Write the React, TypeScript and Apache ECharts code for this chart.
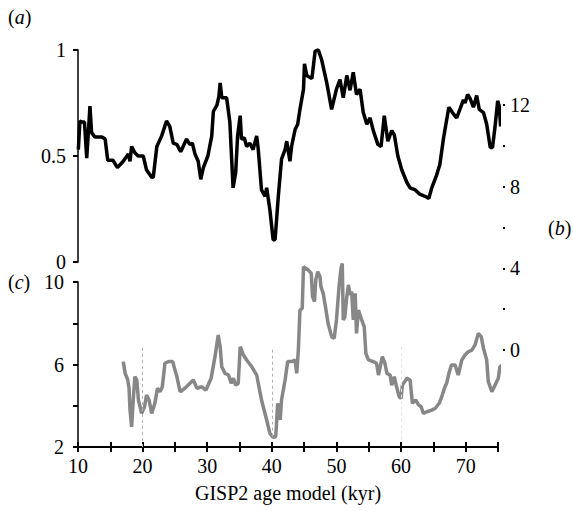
import React, { useEffect, useRef } from "react";
import * as echarts from "echarts";

const xRange = [10, 75];
const topTicks = [0, 0.5, 1];
const bottomTicks = [2, 4, 6, 8, 10];
const rightTicks = [0, 2, 4, 6, 8, 10, 12];

// (a) black record: [age kyr, value]
const seriesA: number[][] = [
  [10.05, 0.53], [10.3, 0.665], [10.7, 0.66], [11.0, 0.66], [11.35, 0.49], [11.6, 0.61], [11.85, 0.735],
  [12.1, 0.61], [12.6, 0.59], [13.7, 0.59], [14.2, 0.58], [14.6, 0.48], [15.4, 0.48], [16.1, 0.445],
  [17.0, 0.475], [17.8, 0.51], [18.05, 0.475], [18.3, 0.545], [18.8, 0.515], [19.3, 0.5], [20.1, 0.5],
  [20.6, 0.435], [21.4, 0.4], [21.65, 0.4], [22.2, 0.545], [22.95, 0.595], [23.7, 0.665], [24.2, 0.64],
  [24.75, 0.56], [25.3, 0.555], [25.9, 0.52], [26.8, 0.58], [27.3, 0.555], [27.7, 0.56], [28.1, 0.51],
  [28.6, 0.475], [29.0, 0.39], [29.4, 0.445], [30.1, 0.5], [30.7, 0.595], [30.95, 0.71], [31.5, 0.74],
  [31.8, 0.78], [32.0, 0.845], [32.25, 0.775], [33.0, 0.775], [33.5, 0.66], [34.0, 0.35], [34.4, 0.42],
  [34.7, 0.595], [35.1, 0.69], [35.3, 0.58], [35.75, 0.585], [36.1, 0.545], [36.6, 0.56], [37.1, 0.53],
  [37.65, 0.595], [37.9, 0.53], [38.4, 0.34], [38.95, 0.31], [39.2, 0.35], [39.7, 0.245], [40.2, 0.105],
  [40.5, 0.105], [41.0, 0.31], [41.5, 0.485], [42.05, 0.53], [42.3, 0.57], [42.8, 0.475], [43.05, 0.545],
  [43.6, 0.625], [44.0, 0.65], [44.35, 0.72], [44.9, 0.815], [45.05, 0.935], [45.4, 0.88], [46.2, 0.865],
  [46.7, 0.995], [47.2, 1.0], [47.7, 0.955], [48.5, 0.845], [49.25, 0.72], [50.0, 0.815], [50.55, 0.86],
  [51.05, 0.775], [51.6, 0.88], [52.1, 0.81], [52.6, 0.895], [53.1, 0.79], [53.65, 0.815], [54.15, 0.705],
  [54.7, 0.65], [55.2, 0.68], [55.7, 0.62], [56.4, 0.555], [56.9, 0.545], [57.4, 0.69], [57.95, 0.57],
  [58.55, 0.62], [58.95, 0.6], [59.5, 0.5], [60.1, 0.435], [60.9, 0.375], [61.4, 0.35], [62.2, 0.34],
  [62.9, 0.32], [63.7, 0.31], [64.3, 0.3], [64.75, 0.35], [65.5, 0.41], [66.0, 0.46], [66.55, 0.58],
  [67.05, 0.67], [67.4, 0.73], [67.95, 0.705], [68.6, 0.68], [69.1, 0.72], [69.65, 0.765], [69.9, 0.75],
  [70.3, 0.79], [70.7, 0.77], [71.2, 0.73], [71.7, 0.785], [72.1, 0.72], [72.75, 0.705], [73.25, 0.65],
  [73.8, 0.54], [74.15, 0.54], [74.55, 0.64], [74.95, 0.76], [75.2, 0.735], [75.4, 0.64], [75.55, 0.72],
];

// (c) grey record: [age kyr, value]
const seriesC: number[][] = [
  [17.0, 6.14], [17.3, 5.57], [17.7, 5.25], [17.9, 4.85], [18.05, 3.79], [18.3, 2.98], [18.55, 4.28],
  [18.8, 5.41], [19.1, 5.25], [19.35, 4.28], [19.85, 3.63], [20.3, 3.95], [20.6, 4.52], [21.0, 4.28],
  [21.4, 3.63], [21.9, 4.12], [22.3, 4.85], [22.7, 4.68], [23.05, 4.92], [23.45, 6.06], [24.0, 6.14],
  [24.65, 6.14], [25.3, 5.41], [25.8, 4.68], [26.55, 4.85], [27.85, 5.25], [28.4, 4.85], [29.15, 4.92],
  [29.8, 4.76], [30.6, 5.33], [31.2, 6.38], [31.7, 7.43], [32.0, 6.86], [32.25, 5.89], [32.75, 5.57],
  [33.3, 5.49], [33.7, 5.09], [34.05, 5.33], [34.4, 5.0], [34.8, 5.09], [35.1, 6.86], [35.6, 6.46],
  [36.1, 6.22], [36.9, 5.89], [37.65, 5.49], [38.4, 4.28], [39.2, 3.31], [39.7, 2.66], [40.2, 2.47],
  [40.6, 2.5], [40.9, 4.12], [41.3, 3.31], [41.5, 4.28], [42.05, 5.25], [42.45, 6.14], [43.05, 6.14],
  [43.6, 6.22], [43.85, 5.57], [44.1, 6.7], [44.35, 8.64], [44.7, 8.72], [44.9, 10.74], [45.65, 10.58],
  [46.1, 10.42], [46.3, 9.29], [46.6, 9.05], [46.8, 10.1], [47.1, 10.5], [47.45, 10.26], [47.6, 9.77],
  [47.95, 9.45], [48.3, 8.8], [48.7, 8.0], [49.25, 7.35], [49.65, 7.27], [50.0, 8.16], [50.4, 9.77],
  [50.7, 10.66], [50.9, 10.9], [51.05, 8.16], [51.3, 8.32], [51.6, 9.29], [51.85, 9.86], [52.1, 9.37],
  [52.35, 9.53], [52.6, 8.16], [52.9, 9.45], [53.1, 7.51], [53.4, 8.64], [53.9, 8.16], [54.3, 7.83],
  [54.55, 6.54], [54.95, 6.22], [55.7, 6.14], [56.2, 6.06], [56.5, 5.49], [57.1, 6.38], [57.5, 6.06],
  [57.8, 5.57], [58.3, 5.49], [58.55, 5.0], [58.95, 5.41], [59.3, 4.92], [59.7, 4.44], [60.0, 4.36],
  [60.2, 5.0], [60.9, 5.33], [61.4, 5.25], [61.75, 4.12], [62.25, 4.28], [62.7, 4.04], [63.1, 3.95],
  [63.45, 3.63], [64.0, 3.71], [64.75, 3.79], [65.3, 3.88], [65.9, 4.12], [66.3, 4.44], [66.7, 4.85],
  [67.05, 5.09], [67.4, 5.57], [67.8, 5.98], [68.35, 5.98], [68.85, 5.49], [69.4, 6.22], [69.9, 6.46],
  [70.4, 6.62], [70.95, 6.7], [71.45, 6.95], [71.95, 7.51], [72.4, 7.35], [72.75, 6.79], [73.25, 6.22],
  [73.5, 5.17], [74.05, 4.68], [74.55, 5.01], [75.05, 5.33], [75.3, 5.89], [75.65, 5.98],
];

// dashed reference ages
const refAges = [20, 40, 60];
const refColors = ["#b0b0b0", "#b0b0b0", "#e4e4e4"];
const refTopSpan = [0.94, 1.012];
const refBottomEnds = [6.8, 6.85, 6.85];
const refBottomStarts = [2, 2.5, 2.35];

const FONT = "Liberation Serif";
const FS = 20;

export default function App() {
  const ref = useRef<HTMLDivElement>(null);
  useEffect(() => {
    if (!ref.current) return;
    const chart = echarts.init(ref.current, undefined, { renderer: "svg" });
    const labelStyle = { fontFamily: FONT, fontSize: FS, color: "#000" };
    const rich = {
      n: { fontFamily: FONT, fontSize: FS, color: "#000" },
      i: { fontFamily: FONT, fontSize: FS, fontStyle: "italic", color: "#000" },
    };
    chart.setOption({
      animation: false,
      backgroundColor: "#fff",
      textStyle: { fontFamily: FONT },
      grid: [
        { left: 78, top: 50, width: 420, height: 212 },
        { left: 78, top: 282, width: 420, height: 165 },
        { left: 78, top: 105, width: 425, height: 245 },
      ],
      xAxis: [
        { gridIndex: 0, type: "value", min: xRange[0], max: xRange[1], show: false },
        {
          gridIndex: 1, type: "value", min: xRange[0], max: xRange[1], interval: 5, position: "bottom",
          axisLine: { lineStyle: { color: "#000", width: 2 } },
          axisTick: { length: 5, lineStyle: { color: "#000", width: 2 } },
          axisLabel: {
            ...labelStyle, margin: 9,
            formatter: (v: number) => (v % 10 === 0 && v <= 70 ? String(v) : ""),
          },
          splitLine: { show: false },
          name: "GISP2 age model (kyr)", nameLocation: "middle", nameGap: 36,
          nameTextStyle: { fontFamily: FONT, fontSize: FS, color: "#000" },
        },
        {
          gridIndex: 1, type: "value", min: xRange[0], max: xRange[1], interval: 5, position: "bottom",
          axisLine: { show: false },
          axisTick: { inside: true, length: 5, lineStyle: { color: "#000", width: 2 } },
          axisLabel: { show: false }, splitLine: { show: false },
        },
        { gridIndex: 2, type: "value", min: xRange[0], max: xRange[1], show: false },
      ],
      yAxis: [
        {
          gridIndex: 0, type: "value", min: topTicks[0], max: topTicks[topTicks.length - 1], interval: 0.5,
          axisLine: { show: true, lineStyle: { color: "#000", width: 1.5 } },
          axisTick: { show: true, length: 5, lineStyle: { color: "#000", width: 2 } },
          axisLabel: { ...labelStyle, margin: 12 },
          splitLine: { show: false },
        },
        {
          gridIndex: 1, type: "value", min: bottomTicks[0], max: bottomTicks[bottomTicks.length - 1], interval: 2,
          axisLine: { show: true, lineStyle: { color: "#000", width: 1.5 } },
          axisTick: { show: true, length: 5, lineStyle: { color: "#000", width: 2 } },
          axisLabel: { ...labelStyle, margin: 14, formatter: (v: number) => ((v - 2) % 4 === 0 ? String(v) : "") },
          splitLine: { show: false },
        },
        {
          gridIndex: 2, type: "value", position: "right", min: rightTicks[0], max: rightTicks[rightTicks.length - 1], interval: 2,
          axisLine: { show: false },
          axisTick: { show: true, length: 2, lineStyle: { color: "#000", width: 2 } },
          axisLabel: { ...labelStyle, margin: 7, formatter: (v: number) => (v % 4 === 0 ? String(v) : "") },
          splitLine: { show: false },
        },
      ],
      series: [
        {
          name: "a", type: "line", xAxisIndex: 0, yAxisIndex: 0, data: seriesA, showSymbol: false, clip: false,
          lineStyle: { color: "#000", width: 3.5 }, z: 3,
          markLine: {
            silent: true, symbol: "none", label: { show: false },
            data: refAges.map((a, i) => [
              { coord: [a, refTopSpan[0]], lineStyle: { color: refColors[i], type: [3, 3], width: 1 } },
              { coord: [a, refTopSpan[1]] },
            ]),
          },
        },
        {
          name: "c", type: "line", xAxisIndex: 1, yAxisIndex: 1, data: seriesC, showSymbol: false, clip: false,
          lineStyle: { color: "#878787", width: 3.5 }, z: 3,
          markLine: {
            silent: true, symbol: "none", label: { show: false },
            data: refAges.map((a, i) => [
              { coord: [a, refBottomStarts[i]], lineStyle: { color: refColors[i], type: [3, 3], width: 1 } },
              { coord: [a, refBottomEnds[i]] },
            ]),
          },
        },
      ],
      graphic: [
        { type: "text", left: 8, top: 7, style: { text: "{n|(}{i|a}{n|)}", rich } },
        { type: "text", left: 8, top: 272, style: { text: "{n|(}{i|c}{n|)}", rich } },
        { type: "text", left: 548, top: 218, style: { text: "{n|(}{i|b}{n|)}", rich } },
      ],
    });
    return () => chart.dispose();
  }, []);
  return <div ref={ref} style={{ width: 573, height: 511, position: "absolute", left: 0, top: 0 }} />;
}
